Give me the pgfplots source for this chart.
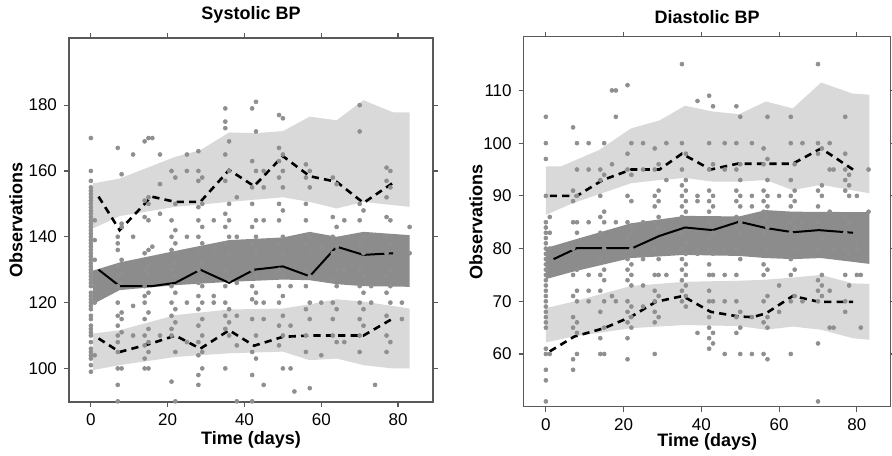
\documentclass[border=0pt]{standalone}
\usepackage{pgfplots}
\pgfplotsset{compat=1.18}
\usepackage{fontspec}
\setmainfont{Liberation Sans}

\definecolor{bandlight}{gray}{0.85}
\definecolor{banddark}{gray}{0.55}
\definecolor{ptcol}{gray}{0.56}
\definecolor{boxcol}{gray}{0.35}

\pgfplotsset{
  every axis title shift=0pt,
  vpc/.style={
    scale only axis,
    anchor=south west,
    axis on top,
    axis line style={boxcol, line width=0.6pt},
    tick style={boxcol, line width=0.6pt},
    tick align=outside,
    major tick length=2.5pt,
    xtick={0,20,...,80},
    ticklabel style={font=\fontsize{8.5}{9}\selectfont},
    /pgf/number format/assume math mode=true,
    label style={font=\bfseries\fontsize{9}{10}\selectfont},
    title style={font=\bfseries\fontsize{9}{10}\selectfont, anchor=center, yshift=0pt},
    xlabel={Time (days)},
    ylabel={Observations},
  },
  lightband/.style={fill=bandlight, draw=none},
  darkband/.style={fill=banddark, draw=none},
  pts/.style={only marks, color=ptcol, mark=*, mark size=1pt, mark options={solid, draw=ptcol, fill=ptcol, line width=0.3pt}},
  med/.style={black, line width=1pt, mark=none},
  pct/.style={black, line width=1.3pt, dash pattern=on 3.6pt off 2.6pt, mark=none},
}

\begin{document}
\begin{tikzpicture}
\path[use as bounding box] (0,0) rectangle (446pt,227.5pt);

% ---------------- Systolic ----------------
\begin{axis}[vpc,
  at={(34.5pt,26.5pt)}, width=182pt, height=182pt,
  xmin=-5.7, xmax=89.1, ymin=89.8, ymax=200.4,
  ytick={100,120,...,180},
  title={Systolic BP},
  title style={at={(axis description cs:0.5,1.063)}},
  xlabel style={at={(axis description cs:0.5,-0.104)}, anchor=center},
  ylabel style={at={(axis description cs:-0.146,0.5)}, anchor=center},
]
\addplot[lightband] coordinates {
  (0.5,156.2) (7.5,157.7) (22,164.3) (28.5,166.3) (36,171.7) (43,171.5) (50,172.1)
  (57,176.5) (64,175.4) (71,181.5) (78.7,177.8) (83,177.8)
  (83,149.1) (71,150.6) (64,148.6) (57,150.6) (50,152) (36,150.6) (22,149.1) (7.5,146.3) (0.5,142.5)
} -- cycle;
\addplot[lightband] coordinates {
  (0.5,110.6) (7.5,111.6) (22,116.2) (36,117.9) (50,118.2) (57,119.5) (64,121) (71,120.3) (83,118.2)
  (83,100) (78.7,100) (71,101) (64,103) (57,102.5) (50,105.1) (36,104.6) (22,103.5) (7.5,101) (0.5,99.5)
} -- cycle;
\addplot[darkband] coordinates {
  (0.5,129.7) (7.5,132.2) (22,135.7) (36,139) (50,139.8) (57,141.5) (64,140) (71,141.5) (83,140.5)
  (83,124.8) (71,125) (64,125.6) (57,126.8) (50,127) (36,126.3) (22,125.3) (7.5,123.8) (0.5,119.5)
} -- cycle;

\addplot[pts] coordinates {
  (0,99)(0,101)(0,103)(0,104)(0,105)(0,106)(0,108)(0,110)(0,111)(0,112)(0,113)(0,115)(0,116)
  (0,118)(0,119)(0,120)(0,121)(0,122)(0,123)(0,125)(0,126)(0,127)(0,128)(0,129)(0,130)(0,131)
  (0,132)(0,133)(0,134)(0,135)(0,136)(0,137)(0,138)(0,139)(0,140)(0,141)(0,142)(0,143)(0,144)
  (0,145)(0,146)(0,147)(0,148)(0,149)(0,150)(0,151)(0,152)(0,153)(0,154)(0,155)(0,157)(0,160)(0,170)
  (1,104)(1,120)(1,125)(1,133)(1,139)(1,145)
  (7,167)(7,140)(7,138)(7,136)(7,131)(7,128)(7,125)(7,120)(7,116)(7,113)(7,110)(7,108)(7,105)(7,100)(7,95)(7,90)
  (8,159)(8,144)(8,143)(8,133)(8,129)(8,126)(8,117)(8,115)(8,111)(8,100)
  (11,165)(11,140)(11,119)(11,110)
  (14,169)(14,151)(14,146)(14,135)(14,130)(14,125)(14,122)(14,120)(14,115)(14,110)(14,107)(14,103)(14,100)
  (15,170)(15,152)(15,150)(15,145)(15,136)(15,131)(15,129)(15,123)(15,117)(15,112)(15,108)(15,105)(15,100)
  (16,170)(16,137)
  (18,165)(18,156)(18,147)(18,110)
  (21,160)(21,145)(21,140)(21,136)(21,130)(21,125)(21,120)(21,116)(21,112)(21,110)(21,96)
  (22,158)(22,150)(22,142)(22,138)(22,135)(22,132)(22,128)(22,123)(22,118)(22,114)(22,105)(22,90)
  (25,165)(25,160)(25,140)(25,120)(25,108)
  (28,166)(28,160)(28,157)(28,149)(28,145)(28,140)(28,135)(28,130)(28,126)(28,122)(28,118)(28,113)(28,108)(28,104)(28,98)(28,95)
  (29,158)(29,150)(29,143)(29,138)(29,132)(29,128)(29,125)(29,120)(29,115)(29,110)(29,105)(29,100)
  (32,145)(32,135)(32,122)(32,120)
  (35,179)(35,175)(35,173)(35,165)(35,157)(35,147)(35,143)(35,138)(35,130)(35,125)(35,120)(35,116)(35,112)(35,100)
  (36,169)(36,160)(36,150)(36,145)(36,140)(36,135)(36,127)(36,118)(36,114)(36,110)
  (38,152)(38,140)(38,126)(38,116)(38,107)(38,90)
  (42,179)(42,163)(42,155)(42,150)(42,143)(42,138)(42,130)(42,125)(42,121)(42,115)(42,105)(42,98)(42,90)
  (43,181)(43,172)(43,160)(43,145)(43,140)(43,135)(43,128)(43,123)(43,120)(43,110)(43,103)
  (45,160)(45,155)(45,145)(45,120)(45,115)(45,95)
  (49,177)(49,167)(49,163)(49,158)(49,150)(49,145)(49,138)(49,130)(49,125)(49,120)(49,113)(49,107)
  (50,176)(50,165)(50,160)(50,155)(50,148)(50,140)(50,135)(50,128)(50,122)(50,116)(50,110)(50,100)
  (52,125)(52,113)(52,100)(53,93)
  (56,162)(56,158)(56,150)(56,145)(56,138)(56,130)(56,125)(56,118)(56,110)(56,105)
  (57,160)(57,155)(57,140)(57,135)(57,128)(57,120)(57,115)(57,94)
  (60,137)(60,120)(60,104)
  (63,158)(63,146)(63,140)(63,135)(63,127)(63,120)(63,115)(63,110)
  (64,156)(64,143)(64,137)(64,130)(64,125)(64,118)(64,108)
  (66,145)(66,130)(66,108)
  (70,180)(70,172)(70,150)(70,145)(70,138)(70,130)(70,125)(70,120)(70,115)(70,110)(70,105)
  (71,148)(71,140)(71,135)(71,128)(71,123)(71,118)(71,113)
  (73,125)(73,120)(74,95)
  (77,161)(77,157)(77,152)(77,146)(77,140)(77,135)(77,128)(77,123)(77,116)(77,110)(77,105)
  (78,160)(78,155)(78,145)(78,138)(78,130)(78,125)(78,120)(78,108)
  (81,120)(81,115)(83,143)(83,135)
};

\addplot[med] coordinates {
  (2,130) (7.5,125) (15.8,125) (22,126) (28.5,130) (36,126) (42.5,130) (50,131) (57,128) (64,137) (71,134.5) (78.7,135)
};
\addplot[pct] coordinates {
  (2,152.2) (7.5,142) (15.8,152.2) (22,150.6) (28.5,150.6) (36,160.3) (42.5,155.4) (50,164.5) (57,158.4) (64,156.7) (71,150.3) (78.7,156.4)
};
\addplot[pct] coordinates {
  (2,109.1) (7.5,105) (15.8,107.6) (22,110) (28.5,106) (36,111.6) (42.5,106.9) (50,109.6) (57,110) (64,110) (71,110) (78.7,115.2)
};
\end{axis}

% ---------------- Diastolic ----------------
\begin{axis}[vpc,
  at={(261.85pt,24.15pt)}, width=183.5pt, height=185pt,
  xmin=-5.7, xmax=88.7, ymin=50, ymax=120.2,
  ytick={60,70,...,110},
  title={Diastolic BP},
  title style={at={(axis description cs:0.5,1.054)}},
  xlabel style={at={(axis description cs:0.5,-0.095)}, anchor=center},
  ylabel style={at={(axis description cs:-0.13,0.5)}, anchor=center},
]
\addplot[lightband] coordinates {
  (0,95.6) (3.9,95.6) (13.7,98.7) (21.9,102.8) (29.2,104.3) (35.8,107.1) (42.9,106) (49.7,105.5)
  (56.6,107.9) (63.5,106.6) (70.8,111.5) (78.9,109.4) (83.2,109.2)
  (83.2,90.5) (70.8,92.1) (63.5,91.1) (56.6,93) (49.7,92.7) (42.9,92.7) (35.8,93.4) (29.2,93) (21.9,92.4) (6.9,88.6) (0,86.4)
} -- cycle;
\addplot[lightband] coordinates {
  (0,68.7) (6.9,69.9) (21.9,72.9) (35.8,73.7) (49.7,73.9) (56.6,74.1) (63.5,74.5) (70.8,75) (78.9,73.4) (83.2,73.3)
  (83.2,62.7) (78.9,63) (70.8,64.6) (63.5,65.2) (56.6,64.6) (49.7,65.3) (35.8,65.5) (21.9,64.9) (6.9,63.3) (0,62.2)
} -- cycle;
\addplot[darkband] coordinates {
  (0,80.1) (6.9,81.6) (21.9,84.8) (35.8,86.2) (49.7,86.1) (56.6,87.3) (63.5,87) (83.2,86.9)
  (83.2,77.1) (70.8,78.2) (63.5,78) (56.6,78.2) (49.7,78.6) (35.8,78.8) (21.9,78.2) (6.9,75.6) (0,74.2)
} -- cycle;

\addplot[pts] coordinates {
  (0,51)(0,55)(0,57)(0,60)(0,61)(0,65)(0,66)(0,67)(0,68)(0,69)(0,70)(0,71)(0,72)(0,73)(0,74)(0,75)
  (0,76)(0,77)(0,78)(0,79)(0,80)(0,81)(0,82)(0,83)(0,84)(0,85)(0,90)(0,97)(0,100)(0,105)
  (1,60)(1,79)(1,80)(1,83)(1,86)
  (7,103)(7,91)(7,89)(7,85)(7,80)(7,75)(7,71)(7,67)(7,65)(7,59)(7,57)
  (8,100)(8,95)(8,90)(8,85)(8,83)(8,76)(8,72)(8,70)(8,66)(8,64)(8,60)
  (11,100)(11,95)(11,85)(11,75)(11,72)(11,70)
  (14,95)(14,93)(14,90)(14,86)(14,83)(14,78)(14,75)(14,72)(14,68)(14,63)(14,60)
  (15,100)(15,94)(15,87)(15,85)(15,80)(15,76)(15,74)(15,70)(15,65)(15,60)
  (17,110)(17,96)(17,71)(18,110)(18,105)(18,85)(18,70)
  (21,111)(21,98)(21,95)(21,90)(21,85)(21,82)(21,78)(21,76)(21,74)(21,70)(21,68)(21,66)(21,63)(21,59)
  (22,100)(22,94)(22,89)(22,84)(22,83)(22,80)(22,77)(22,75)(22,73)(22,69)(22,67)(22,65)
  (25,100)(25,95)(25,85)(25,78)(25,73)(25,69)
  (28,99)(28,95)(28,90)(28,88)(28,85)(28,80)(28,75)(28,72)(28,70)(28,68)(28,66)(28,60)
  (29,96)(29,91)(29,89)(29,86)(29,84)(29,78)(29,75)(29,71)(29,67)
  (31,100)(31,93)(31,75)
  (35,115)(35,100)(35,95)(35,92)(35,90)(35,88)(35,86)(35,83)(35,80)(35,78)(35,76)(35,74)(35,72)(35,70)
  (36,98)(36,93)(36,91)(36,89)(36,87)(36,85)(36,81)(36,79)(36,77)(36,75)(36,73)(36,71)(36,69)
  (39,108)(39,90)(39,89)(39,80)(39,79)(39,64)
  (42,109)(42,100)(42,95)(42,91)(42,89)(42,87)(42,85)(42,82)(42,80)(42,77)(42,75)(42,72)(42,70)(42,67)(42,65)(42,63)(42,61)
  (43,107)(43,96)(43,90)(43,88)(43,83)(43,79)(43,75)(43,70)(43,64)(43,62)
  (46,100)(46,95)(46,85)(46,80)(46,75)(46,70)(46,60)
  (49,107)(49,100)(49,95)(49,91)(49,89)(49,86)(49,84)(49,80)(49,75)(49,70)(49,67)(49,64)
  (50,105)(50,96)(50,93)(50,90)(50,88)(50,85)(50,83)(50,78)(50,68)(50,65)(50,60)
  (53,100)(53,90)(53,88)(53,86)(53,80)(53,67)(53,60)
  (56,99)(56,96)(56,91)(56,89)(56,87)(56,85)(56,83)(56,77)(56,75)(56,70)(56,66)(56,60)
  (57,105)(57,97)(57,93)(57,90)(57,88)(57,86)(57,84)(57,80)(57,76)(57,71)(57,67)(57,65)(57,59)
  (60,90)(60,73)(60,68)
  (63,105)(63,100)(63,93)(63,90)(63,88)(63,85)(63,83)(63,78)(63,75)(63,70)(63,60)
  (64,96)(64,91)(64,89)(64,86)(64,84)(64,80)(64,76)(64,71)
  (66,100)(66,85)(66,70)
  (70,115)(70,100)(70,98)(70,91)(70,88)(70,85)(70,80)(70,74)(70,72)(70,70)(70,62)(70,51)
  (71,99)(71,92)(71,90)(71,82)(71,75)(71,73)(71,71)
  (73,100)(73,95)(73,87)(73,72)(73,65)(74,95)(74,80)(74,65)
  (77,105)(77,98)(77,95)(77,93)(77,91)(77,86)(77,83)(77,80)(77,75)(77,70)(77,68)
  (78,94)(78,92)(78,90)(78,85)(78,79)(78,73)
  (80,90)(80,81)(80,80)(80,75)(81,75)(81,65)(83,95)(83,87)
};

\addplot[med] coordinates {
  (2,78) (8,80.1) (22.3,80.1) (29.2,82.4) (35.8,84) (42.9,83.5) (49.7,85.1) (56.6,83.9) (63.5,83.1) (70.2,83.5) (79,83)
};
\addplot[pct] coordinates {
  (1,90) (8,90) (14.6,93) (22,95) (29.2,95) (35,98) (42.4,95) (49.3,96.1) (56.6,96.1) (63.5,96.1) (70.8,99) (79,95)
};
\addplot[pct] coordinates {
  (1,60.5) (7.3,63.3) (15,64.9) (22,67.1) (28.3,69.9) (35.2,71) (42.4,68) (49.7,67.1) (53.2,67) (56.6,67.7) (63.5,71) (70.2,69.9) (79,69.9)
};
\end{axis}
\end{tikzpicture}
\end{document}
